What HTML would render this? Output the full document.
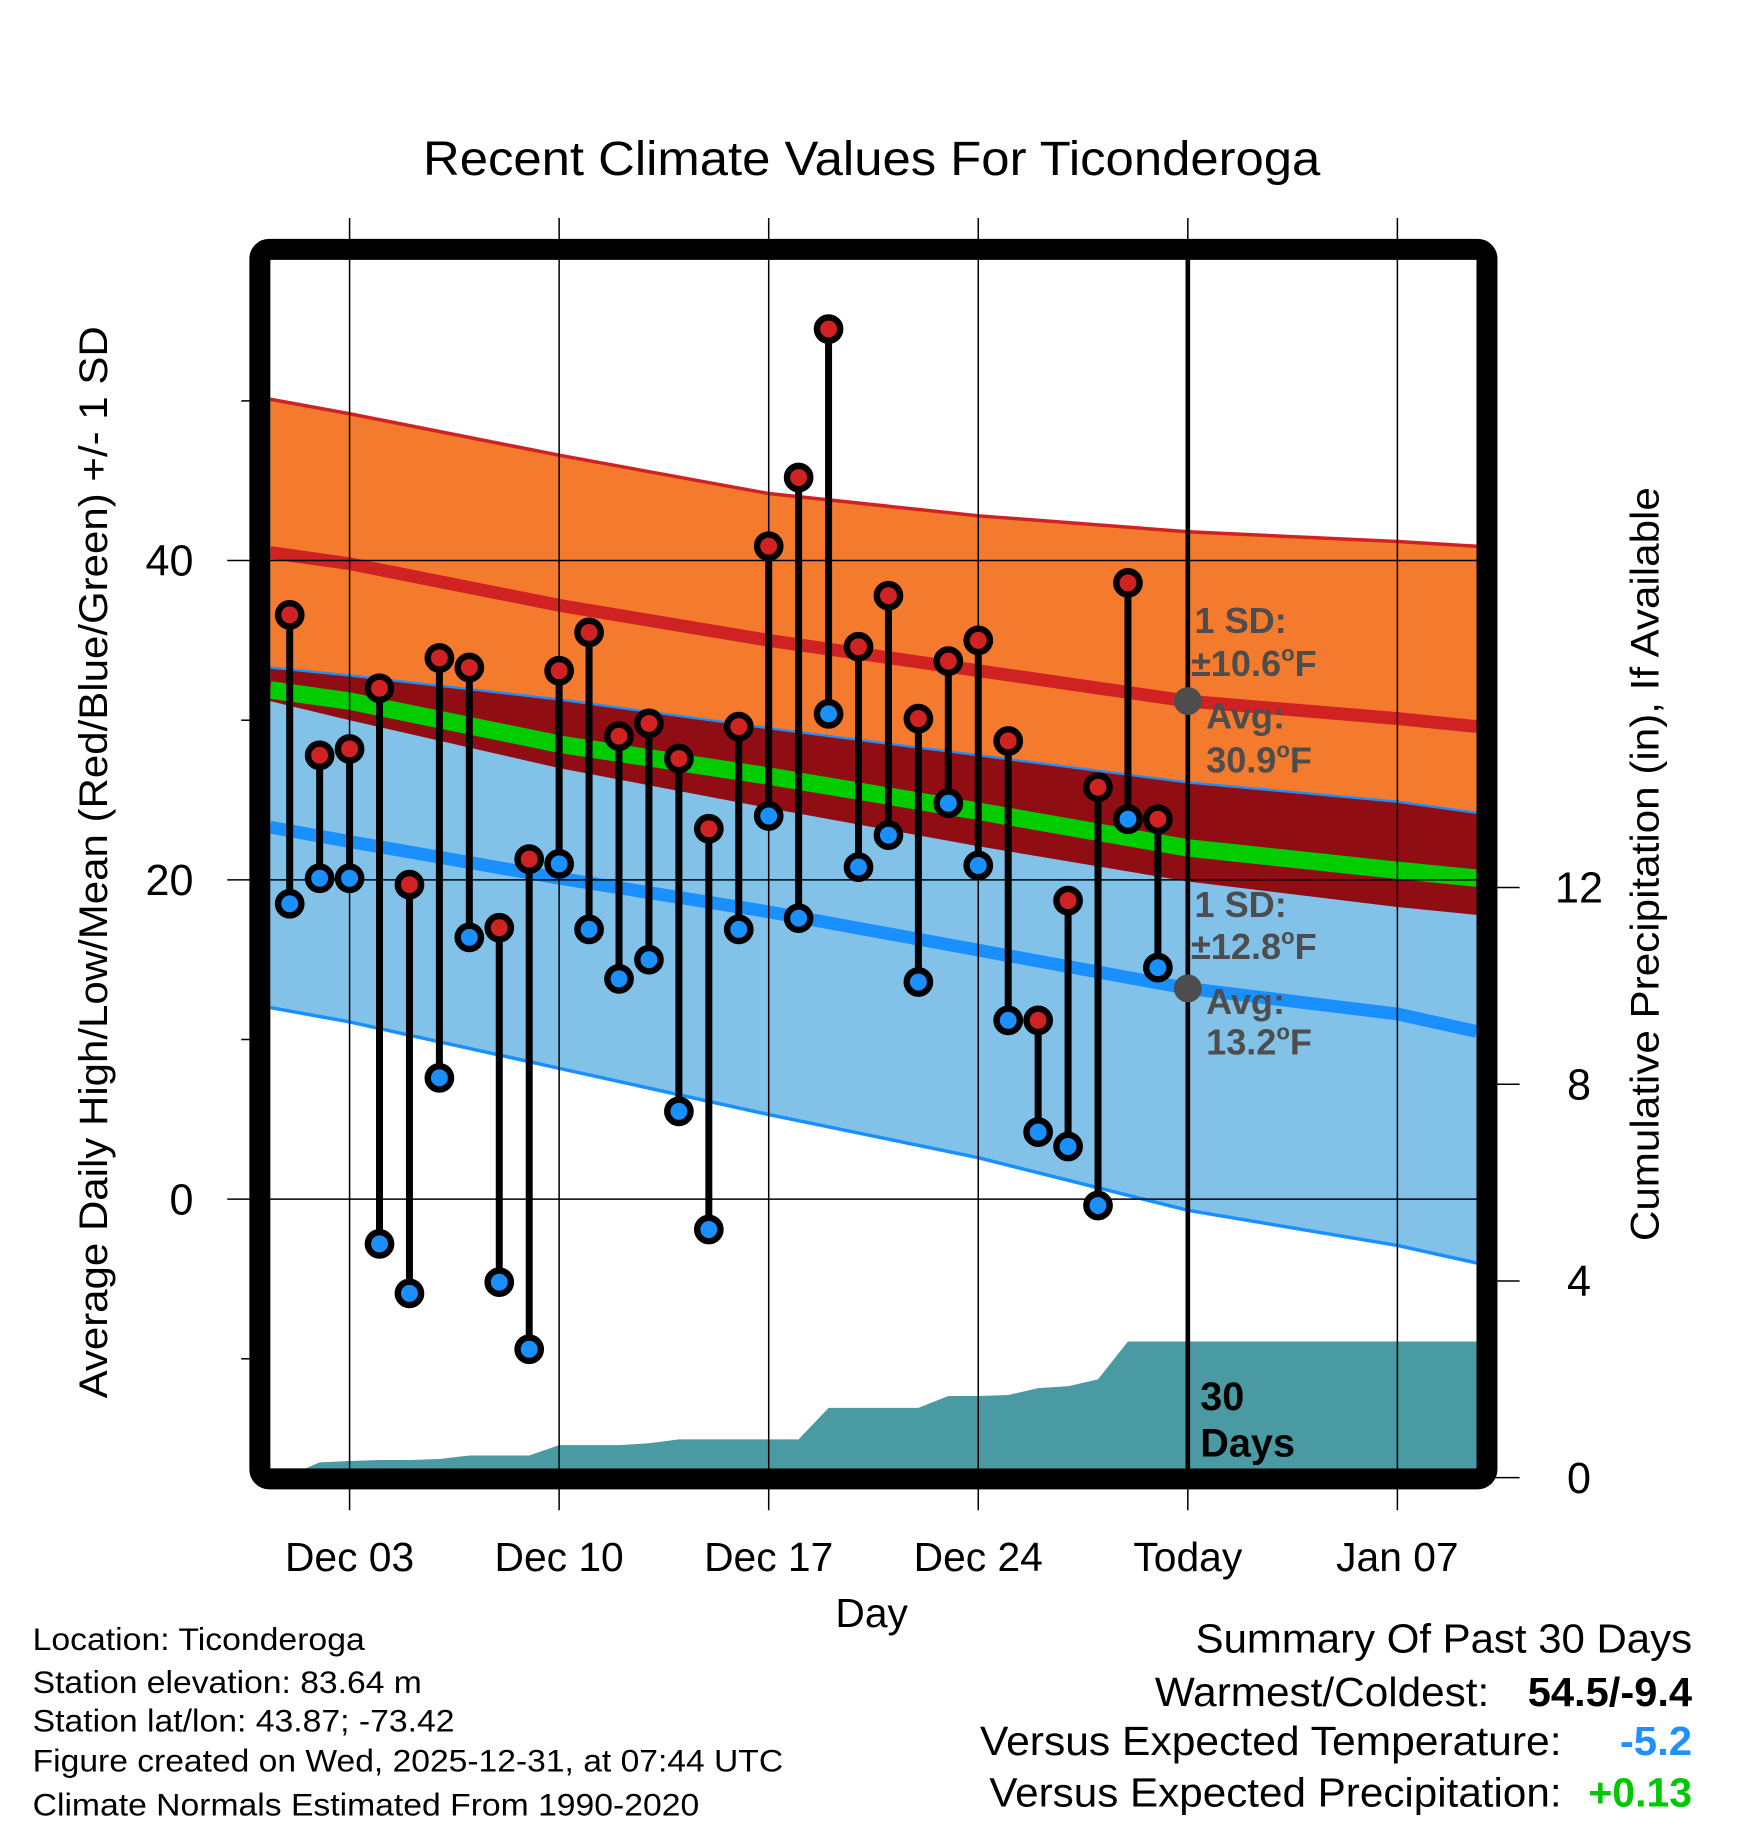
<!DOCTYPE html>
<html><head><meta charset="utf-8"><style>
html,body{margin:0;padding:0;background:#fff}
svg{display:block}
text{font-family:"Liberation Sans",Arial,sans-serif}
</style></head><body>
<svg id="chart" width="1748" height="1828" viewBox="0 0 1500 1568.6" xmlns="http://www.w3.org/2000/svg">
<defs><clipPath id="pc"><rect x="232" y="223" width="1035" height="1037"/></clipPath></defs>
<rect width="1500" height="1568.6" fill="#fff"/>
<text x="363" y="150" font-size="41" textLength="770" lengthAdjust="spacingAndGlyphs">Recent Climate Values For Ticonderoga</text>
<g id="bands" clip-path="url(#pc)"></g>
<g id="grid"></g>
<g id="marks" clip-path="url(#pc)"></g>
<rect x="223" y="214" width="1053" height="1055" rx="8" fill="none" stroke="#000" stroke-width="18"/>
<g id="labels"></g>
<text transform="translate(92,1200) rotate(-90)" font-size="34" textLength="920" lengthAdjust="spacingAndGlyphs">Average Daily High/Low/Mean (Red/Blue/Green) +/- 1 SD</text>
<text transform="translate(1423,1065) rotate(-90)" font-size="34" textLength="647" lengthAdjust="spacingAndGlyphs">Cumulative Precipitation (in), If Available</text>
<text x="748" y="1396" font-size="35" text-anchor="middle">Day</text>
<g font-weight="bold" font-size="31" fill="#4d4d4d">
<text x="1025" y="543">1 SD:</text>
<text x="1022" y="580">±10.6<tspan font-size="19" dy="-13">o</tspan><tspan dy="13">F</tspan></text>
<text x="1035" y="625">Avg:</text>
<text x="1035" y="663">30.9<tspan font-size="19" dy="-13">o</tspan><tspan dy="13">F</tspan></text>
<text x="1025" y="787">1 SD:</text>
<text x="1022" y="823">±12.8<tspan font-size="19" dy="-13">o</tspan><tspan dy="13">F</tspan></text>
<text x="1035" y="870">Avg:</text>
<text x="1035" y="905">13.2<tspan font-size="19" dy="-13">o</tspan><tspan dy="13">F</tspan></text>
</g>
<g font-weight="bold" font-size="34" fill="#000">
<text x="1030" y="1210">30</text><text x="1030" y="1250">Days</text>
</g>
<g font-size="27">
<text x="28" y="1416" textLength="285" lengthAdjust="spacingAndGlyphs">Location: Ticonderoga</text>
<text x="28" y="1453" textLength="334" lengthAdjust="spacingAndGlyphs">Station elevation: 83.64 m</text>
<text x="28" y="1486" textLength="362" lengthAdjust="spacingAndGlyphs">Station lat/lon: 43.87; -73.42</text>
<text x="28" y="1520" textLength="644" lengthAdjust="spacingAndGlyphs">Figure created on Wed, 2025-12-31, at 07:44 UTC</text>
<text x="28" y="1558" textLength="572" lengthAdjust="spacingAndGlyphs">Climate Normals Estimated From 1990-2020</text>
</g>
<g font-size="35">
<text x="1026" y="1418" textLength="426" lengthAdjust="spacingAndGlyphs">Summary Of Past 30 Days</text>
<text x="991" y="1464" textLength="287" lengthAdjust="spacingAndGlyphs">Warmest/Coldest:</text>
<text x="1311" y="1464" font-weight="bold" textLength="141" lengthAdjust="spacingAndGlyphs">54.5/-9.4</text>
<text x="841" y="1506" textLength="499" lengthAdjust="spacingAndGlyphs">Versus Expected Temperature:</text>
<text x="1390" y="1506" font-weight="bold" fill="#1e90ff" textLength="62" lengthAdjust="spacingAndGlyphs">-5.2</text>
<text x="849" y="1550" textLength="491" lengthAdjust="spacingAndGlyphs">Versus Expected Precipitation:</text>
<text x="1363" y="1550" font-weight="bold" fill="#00c800" textLength="89" lengthAdjust="spacingAndGlyphs">+0.13</text>
</g>
</svg>
<script>
// daily observations Dec 1 .. Dec 30
const highs=[36.6,27.8,28.2,32.0,19.7,33.9,33.3,17.0,21.3,33.1,35.5,29.0,29.8,27.6,23.2,29.6,40.9,45.2,54.5,34.6,37.8,30.1,33.7,35.0,28.7,11.2,18.7,25.8,38.6,23.8];
const lows=[18.5,20.1,20.1,-2.8,-5.9,7.6,16.4,-5.2,-9.4,21.0,16.9,13.8,15.0,5.5,-1.9,16.9,24.0,17.6,30.4,20.8,22.8,13.6,24.8,20.9,11.2,4.2,3.3,-0.4,23.8,14.5];
// cumulative precipitation Dec 1 .. Dec 31 (in)
const precip=[0.05,0.31,0.34,0.36,0.36,0.38,0.45,0.45,0.45,0.66,0.66,0.66,0.70,0.78,0.78,0.78,0.78,0.78,1.42,1.42,1.42,1.42,1.66,1.66,1.68,1.82,1.86,2.0,2.77,2.77,2.77];
// normals, sampled at day offsets from Dec 1
const normDays=[-0.65,2,9,16,23,30,37,39.65];
const hiPlus=[50.1,49.2,46.6,44.2,42.8,41.8,41.2,40.9];
const hiMean=[40.5,39.8,37.2,35.0,33.1,31.2,30.1,29.6];
const hiMinus=[31.2,30.0,27.0,24.5,22.1,19.9,18.3,17.8];
const meanMid=[31.9,31.2,28.5,26.5,24.3,22.0,20.6,20.1];
const loPlus=[33.3,32.8,31.3,29.5,27.8,26.1,24.9,24.2];
const loMean=[23.3,22.4,20.1,18.0,15.6,13.2,11.6,10.5];
const loMinus=[12.0,11.1,8.2,5.3,2.6,-0.7,-2.9,-4.0];
const xTicks=[2,9,16,23,30,37];
const xTickLabels=["Dec 03","Dec 10","Dec 17","Dec 24","Today","Jan 07"];
const yTicks=[40,20,0];
const yMinor=[50,30,10,-10];
const pTicks=[0,4,8,12];

const NS="http://www.w3.org/2000/svg";
const X=d=>248.6+25.69*d;
const Y=v=>1029-13.7*v;
const PY=p=>1268-42.2*p;
function el(tag,attrs,parent){const e=document.createElementNS(NS,tag);for(const k in attrs)e.setAttribute(k,attrs[k]);parent.appendChild(e);return e;}
function pts(arr){return normDays.map((d,i)=>X(d).toFixed(1)+","+Y(arr[i]).toFixed(1));}
function line(arr){return "M"+pts(arr).join(" L");}
function band(top,bot){return "M"+pts(top).join(" L")+" L"+pts(bot).reverse().join(" L")+"Z";}

const B=document.getElementById("bands");
let e;
e=el("path",{d:band(hiPlus,hiMinus),fill:"#f47a2e"},B);


e=el("path",{d:band(loPlus,loMinus),fill:"#82c1e8"},B);


e=el("path",{d:band(loPlus,hiMinus),fill:"#910d14"},B);


e=el("path",{d:line(meanMid),fill:"none",stroke:"#00cc00","stroke-width":15},B);


e=el("path",{d:line(hiMean),fill:"none",stroke:"#d02222","stroke-width":11},B);


e=el("path",{d:line(loMean),fill:"none",stroke:"#1a90ff","stroke-width":11},B);


e=el("path",{d:line(hiPlus),fill:"none",stroke:"#d02222","stroke-width":3},B);


e=el("path",{d:line(loPlus),fill:"none",stroke:"#1a90ff","stroke-width":2},B);


e=el("path",{d:line(loMinus),fill:"none",stroke:"#1a90ff","stroke-width":3},B);


let pd="M"+X(0)+","+PY(0);
precip.forEach((p,i)=>{pd+=" L"+X(i).toFixed(1)+","+PY(p).toFixed(1);});
pd+=" L1270,"+PY(precip[precip.length-1]).toFixed(1)+" L1270,"+PY(0)+"Z";
e=el("path",{d:pd,fill:"#4a9aa3"},B);



const G=document.getElementById("grid");
xTicks.forEach(d=>{
 e=el("line",{x1:X(d),x2:X(d),y1:187,y2:1296,stroke:"#000","stroke-width":1.3},G);
 
 
});
yTicks.forEach(v=>{
 e=el("line",{x1:195,x2:1267,y1:Y(v),y2:Y(v),stroke:"#000","stroke-width":1.3},G);
 
 
});
yMinor.forEach(v=>{
 e=el("line",{x1:207,x2:220,y1:Y(v),y2:Y(v),stroke:"#000","stroke-width":1.3},G);
 
 
});
pTicks.forEach(p=>{
 e=el("line",{x1:1280,x2:1304,y1:PY(p),y2:PY(p),stroke:"#000","stroke-width":1.3},G);
 
 
});

const M=document.getElementById("marks");
e=el("line",{x1:X(30),x2:X(30),y1:223,y2:1260,stroke:"#000","stroke-width":4},M);


highs.forEach((h,i)=>{
 const x=X(i);
 e=el("line",{x1:x,x2:x,y1:Y(h),y2:Y(lows[i]),stroke:"#000","stroke-width":6},M);
 
 
});
highs.forEach((h,i)=>{
 const x=X(i);
 e=el("circle",{cx:x,cy:Y(lows[i]),r:10,fill:"#1a90ff",stroke:"#000","stroke-width":5.5},M);
 
 
 e=el("circle",{cx:x,cy:Y(h),r:10,fill:"#d02222",stroke:"#000","stroke-width":5.5},M);
 
 
});
e=el("circle",{cx:X(30),cy:Y(hiMean[5]),r:12,fill:"#4d4d4d"},M);


e=el("circle",{cx:X(30),cy:Y(loMean[5]),r:12,fill:"#4d4d4d"},M);



const L=document.getElementById("labels");
xTicks.forEach((d,i)=>{
 e=el("text",{x:X(d),y:1348,"font-size":35,"text-anchor":"middle"},L);
 e.textContent=xTickLabels[i];
 
 
});
yTicks.forEach(v=>{
 e=el("text",{x:166,y:Y(v)+13,"font-size":37,"text-anchor":"end"},L);
 e.textContent=String(v);
 
 
});
pTicks.forEach(p=>{
 e=el("text",{x:1355,y:PY(p)+13,"font-size":37,"text-anchor":"middle"},L);
 e.textContent=String(p);
 
 
});
</script>
</body></html>
